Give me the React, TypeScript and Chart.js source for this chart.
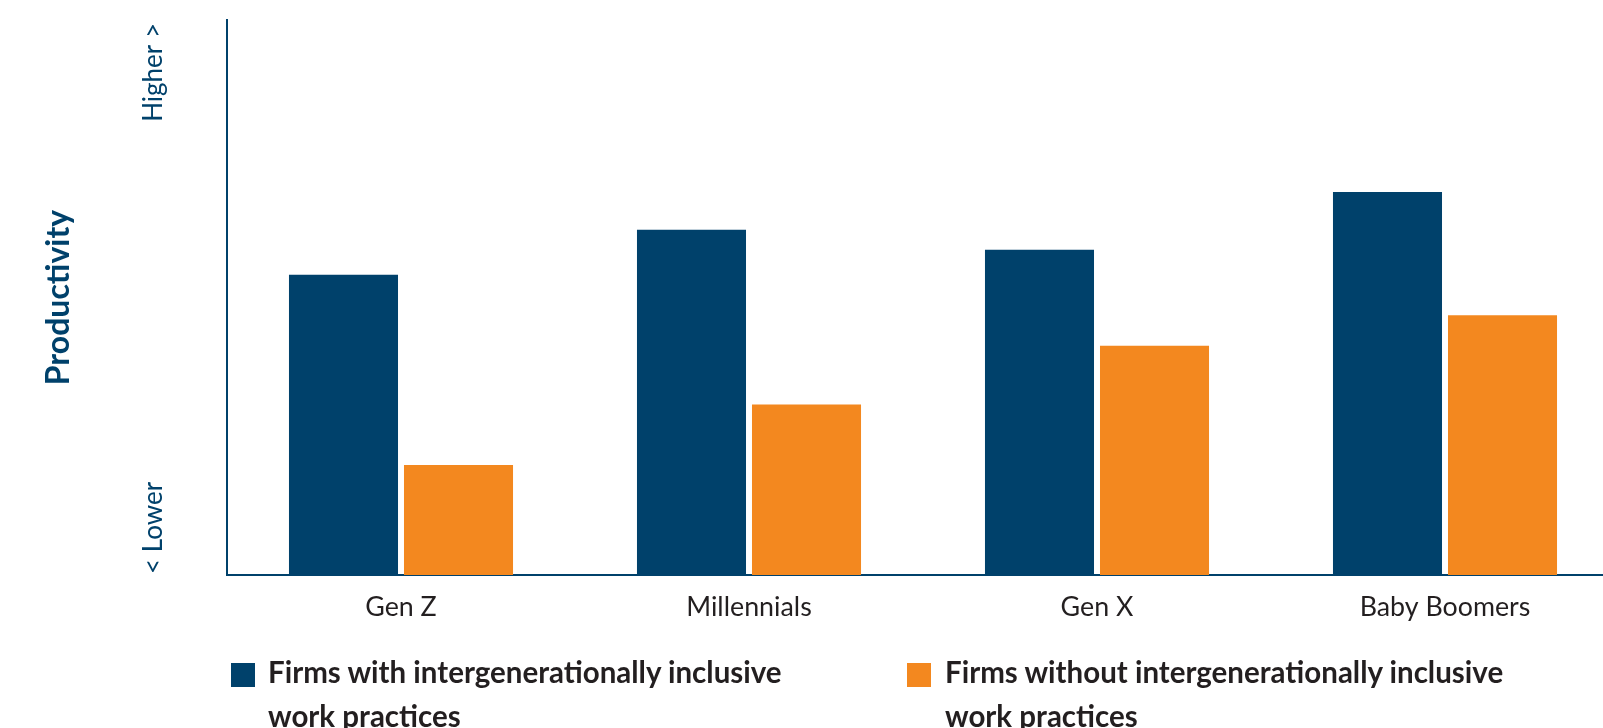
import React, { useEffect, useRef } from "react";
import { Chart, registerables } from "chart.js";

Chart.register(...registerables);

// ---- data ----
const categories = ["Gen Z", "Millennials", "Gen X", "Baby Boomers"];
const withInclusive = [54.1, 62.2, 58.6, 69.0];
const withoutInclusive = [19.8, 30.7, 41.3, 46.8];
const seriesLabels = [
  ["Firms with intergenerationally inclusive", "work practices"],
  ["Firms without intergenerationally inclusive", "work practices"],
];
const axisTitle = "Productivity";
const axisHigh = "Higher >";
const axisLow = "< Lower";
const axisMin = 0;
const axisMax = 100;

// ---- styles ----
const BLUE = "#00416B";
const ORANGE = "#F3881F";
const TEXT = "#231F20";
const FONT = "Lato, 'Noto Sans', sans-serif";

const axisTextPlugin = {
  id: "axisText",
  afterDraw(chart: any) {
    const { ctx, chartArea, scales } = chart;
    const y = scales.y;
    const top = y.getPixelForValue(axisMax);
    const bottom = y.getPixelForValue(axisMin);
    const left = chartArea.left;
    ctx.save();
    ctx.fillStyle = BLUE;
    ctx.textBaseline = "alphabetic";
    ctx.font = `400 26px ${FONT}`;
    // Higher >
    ctx.save();
    ctx.translate(left - 65, top + 3);
    ctx.rotate(-Math.PI / 2);
    ctx.textAlign = "right";
    ctx.fillText(axisHigh, 0, 0);
    ctx.restore();
    // < Lower
    ctx.save();
    ctx.translate(left - 65, bottom - 1);
    ctx.rotate(-Math.PI / 2);
    ctx.textAlign = "left";
    ctx.fillText(axisLow, 0, 0);
    ctx.restore();
    // Productivity
    ctx.save();
    ctx.font = `700 32px ${FONT}`;
    ctx.translate(left - 158, (top + bottom) / 2);
    ctx.rotate(-Math.PI / 2);
    ctx.textAlign = "center";
    ctx.fillText(axisTitle, 0, 0);
    ctx.restore();
    ctx.restore();
  },
};

export default function App() {
  const canvasRef = useRef<HTMLCanvasElement | null>(null);

  useEffect(() => {
    const canvas = canvasRef.current;
    if (!canvas) return;
    const chart = new Chart(canvas, {
      type: "bar",
      data: {
        labels: categories,
        datasets: [
          {
            label: seriesLabels[0].join(" "),
            data: withInclusive,
            backgroundColor: BLUE,
            borderWidth: 0,
            categoryPercentage: 0.661,
            barPercentage: 0.948,
          },
          {
            label: seriesLabels[1].join(" "),
            data: withoutInclusive,
            backgroundColor: ORANGE,
            borderWidth: 0,
            categoryPercentage: 0.661,
            barPercentage: 0.948,
          },
        ],
      },
      options: {
        animation: false,
        responsive: false,
        maintainAspectRatio: false,
        devicePixelRatio: 1,
        layout: { padding: { left: 227, top: 20, right: 1, bottom: 93 } },
        plugins: {
          legend: { display: false },
          tooltip: { enabled: false },
          title: { display: false },
        },
        scales: {
          x: {
            grid: { display: false, drawTicks: false },
            border: { display: true, color: BLUE, width: 2 },
            ticks: {
              color: TEXT,
              font: { family: FONT, size: 26.8, weight: "normal" },
              padding: 16,
              maxRotation: 0,
              autoSkip: false,
            },
            afterFit: (scale: any) => {
              scale.height = 60;
            },
          },
          y: {
            min: axisMin,
            max: axisMax,
            grid: { display: false, drawTicks: false },
            border: { display: true, color: BLUE, width: 2 },
            ticks: { display: false },
            afterFit: (scale: any) => {
              scale.width = 0;
            },
          },
        },
      },
      plugins: [axisTextPlugin],
    });
    if ((document as any).fonts) {
      Promise.all([
        (document as any).fonts.load(`400 26px Lato`),
        (document as any).fonts.load(`700 28px Lato`),
      ]).then(() => chart.update());
    }
    return () => chart.destroy();
  }, []);

  const legendText: React.CSSProperties = {
    position: "absolute",
    top: 650,
    fontFamily: FONT,
    fontWeight: 700,
    fontSize: 29.5,
    lineHeight: "44px",
    color: TEXT,
    whiteSpace: "nowrap",
  };

  return (
    <div
      style={{
        position: "absolute",
        left: 0,
        top: 0,
        width: 1603,
        height: 728,
        overflow: "hidden",
        background: "#fff",
      }}
    >
      <canvas
        ref={canvasRef}
        width={1620}
        height={728}
        style={{ position: "absolute", left: 0, top: 0, width: 1620, height: 728 }}
      />
      <div style={{ position: "absolute", left: 231, top: 663, width: 24, height: 24, background: BLUE }} />
      <div style={{ ...legendText, left: 268 }}>
        {seriesLabels[0][0]}
        <br />
        {seriesLabels[0][1]}
      </div>
      <div style={{ position: "absolute", left: 907, top: 663, width: 24, height: 24, background: ORANGE }} />
      <div style={{ ...legendText, left: 945 }}>
        {seriesLabels[1][0]}
        <br />
        {seriesLabels[1][1]}
      </div>
    </div>
  );
}
